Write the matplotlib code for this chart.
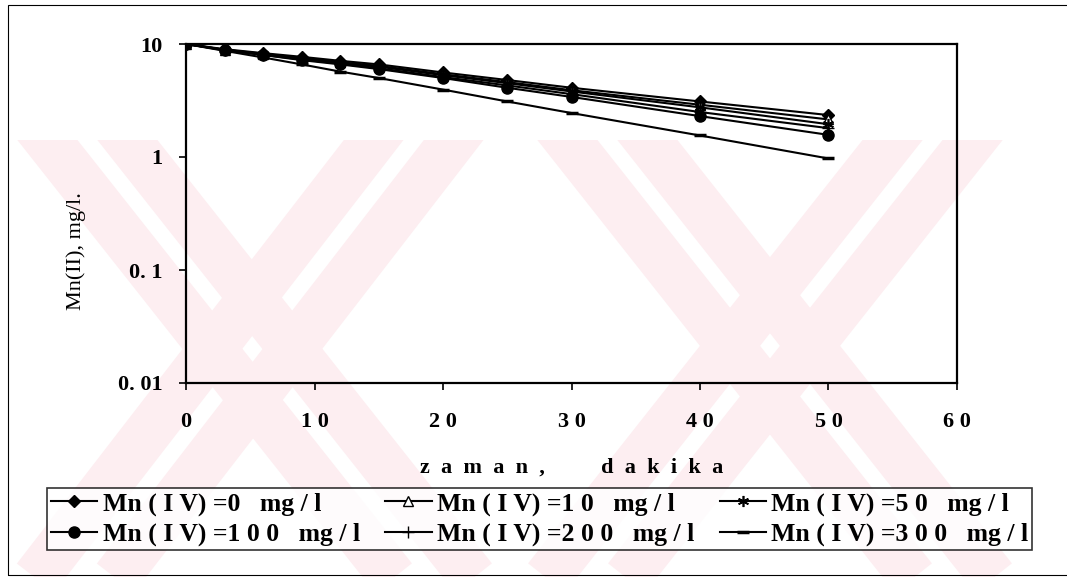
import matplotlib
matplotlib.use("Agg")
import matplotlib.pyplot as plt
from matplotlib.lines import Line2D
from matplotlib.patches import Rectangle

# time, minutes
zaman = [0, 3, 6, 9, 12, 15, 20, 25, 30, 40, 50]

# Mn(II) concentration, mg/l, for each Mn(IV) dose
mn_0 = [10, 9.0, 8.3, 7.7, 7.1, 6.6, 5.6, 4.8, 4.1, 3.1, 2.35]
mn_10 = [10, 8.9, 8.2, 7.5, 6.9, 6.4, 5.4, 4.6, 3.9, 2.9, 2.15]
mn_50 = [10, 8.9, 8.1, 7.4, 6.8, 6.3, 5.3, 4.5, 3.8, 2.75, 1.95]
mn_100 = [10, 8.8, 8.0, 7.2, 6.6, 6.0, 5.0, 4.1, 3.4, 2.3, 1.57]
mn_200 = [10, 8.85, 8.0, 7.3, 6.7, 6.1, 5.1, 4.3, 3.6, 2.5, 1.8]
mn_300 = [10, 8.7, 7.6, 6.6, 5.7, 5.0, 3.95, 3.1, 2.45, 1.55, 0.97]

labels = ["Mn ( I V) =0   mg / l", "Mn ( I V) =1 0   mg / l", "Mn ( I V) =5 0   mg / l",
          "Mn ( I V) =1 0 0   mg / l", "Mn ( I V) =2 0 0   mg / l", "Mn ( I V) =3 0 0   mg / l"]

y_ticks = [0.01, 0.1, 1, 10]
y_tick_labels = ["0. 01", "0. 1", "1", "10"]
x_ticks = [0, 10, 20, 30, 40, 50, 60]

W, H = 1067, 577
fig = plt.figure(figsize=(W / 100, H / 100), dpi=100)
serif = "Liberation Serif"

# pale pink watermark bands behind the chart
pink = "#fdeef1"
clip = Rectangle((0, 0), 1, 1 - 140 / H, transform=fig.transFigure, facecolor="none", edgecolor="none")
fig.add_artist(clip)
arms = [((40, 140), (480, 577)), ((460, 140), (30, 577)),
        ((560, 140), (1000, 577)), ((980, 140), (540, 577))]
for (x0, y0), (x1, y1) in arms:
    for off in (-40, 40):
        ln = Line2D([(x0 + off) / W, (x1 + off) / W], [1 - (y0 - 60) / H, 1 - (y1 + 60) / H],
                    transform=fig.transFigure, color=pink, lw=34, solid_capstyle="butt", zorder=0)
        ln.set_clip_path(clip)
        fig.add_artist(ln)

# outer frame of the figure
fig.add_artist(Rectangle((8 / W, 1 - 575 / H), 1.0, (575 - 5) / H, transform=fig.transFigure,
                         facecolor="none", edgecolor="black", lw=0.8, zorder=1))

ax = fig.add_axes([186 / W, 1 - 383 / H, (957 - 186) / W, (383 - 44) / H])
ax.set_facecolor("none")
ax.set_zorder(2)

lw = 1.5
ax.plot(zaman, mn_0, color="black", lw=lw, marker="D", ms=6, label=labels[0])
ax.plot(zaman, mn_10, color="black", lw=lw, marker="^", ms=7, mfc="white", label=labels[1])
ax.plot(zaman, mn_50, color="black", lw=lw, marker=(6, 2, 0), ms=8, mew=1.2, label=labels[2])
ax.plot(zaman, mn_100, color="black", lw=lw, marker="o", ms=8, label=labels[3])
ax.plot(zaman, mn_200, color="black", lw=lw, marker="+", ms=9, mew=1.0, label=labels[4])
ax.plot(zaman, mn_300, color="black", lw=lw, marker="_", ms=9, mew=2.5, label=labels[5])

ax.set_yscale("log")
ax.set_ylim(0.01, 10)
ax.set_xlim(0, 60)
ax.set_yticks(y_ticks)
ax.set_yticklabels(y_tick_labels)
ax.minorticks_off()
ax.set_xticks(x_ticks)
ax.set_xticklabels([" ".join(str(v)) for v in x_ticks])
ax.tick_params(axis="both", direction="out", length=5, width=1.2, colors="black")
ax.tick_params(axis="x", pad=16)
ax.tick_params(axis="y", pad=12)
for lab in ax.get_xticklabels() + ax.get_yticklabels():
    lab.set_fontfamily(serif)
    lab.set_fontweight("bold")
    lab.set_fontsize(16)
for sp in ax.spines.values():
    sp.set_linewidth(1.6)
    sp.set_color("black")

ax.set_xlabel("z  a  m  a  n  ,          d  a  k  i  k  a", fontfamily=serif, fontweight="bold",
              fontsize=16, labelpad=18)
ax.set_ylabel("Mn(II), mg/l.", fontfamily=serif, fontsize=16)
ax.yaxis.set_label_coords(-0.13, 0.39)

# legend laid out row by row like the original
h, l = ax.get_legend_handles_labels()
order = [0, 3, 1, 4, 2, 5]
leg = fig.legend([h[i] for i in order], [l[i] for i in order], ncol=3,
                 loc="upper left", bbox_to_anchor=(47 / W, 1 - 488 / H),
                 frameon=True, fancybox=False, edgecolor="black",
                 prop={"family": serif, "weight": "bold", "size": 18.5},
                 handlelength=1.8, handletextpad=0.2, columnspacing=1.0,
                 borderpad=0.16, labelspacing=0.28, borderaxespad=0)
leg.get_frame().set_linewidth(1.2)

fig.savefig("out.png", dpi=100)
